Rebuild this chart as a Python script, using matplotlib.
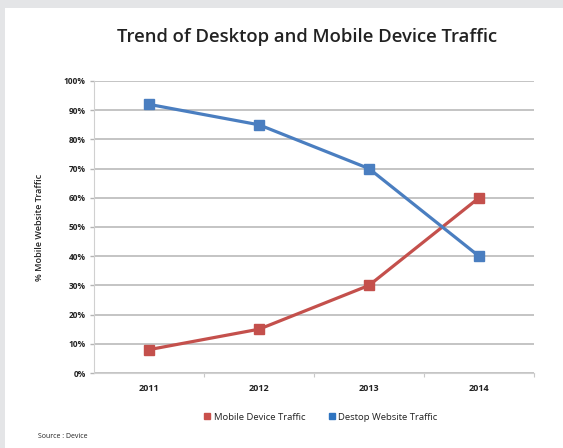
import numpy as np
import matplotlib.pyplot as plt
from matplotlib.patches import Rectangle
from matplotlib.lines import Line2D

plt.rcParams['font.family'] = ['Open Sans', 'DejaVu Sans']

years = ["2011", "2012", "2013", "2014"]
mobile = [8, 15, 30, 60]     # % mobile device traffic
desktop = [92, 85, 70, 40]   # % desktop website traffic
yticks = [0, 10, 20, 30, 40, 50, 60, 70, 80, 90, 100]

red = '#c4504c'
blue = '#4a7ec0'

fig = plt.figure(figsize=(5.63, 4.48), dpi=100)
fig.patch.set_facecolor('#e4e5e7')
# white card on the grey page
fig.patches.append(Rectangle((5 / 563, 0), 1, 1 - 8 / 448, transform=fig.transFigure,
                             facecolor='white', edgecolor='none', zorder=-10))

ax = fig.add_axes([94 / 563, 1 - 373 / 448, 440 / 563, 292 / 448])
ax.set_facecolor('none')

x = np.arange(len(years))
ax.plot(x, mobile, color=red, lw=2.3, marker='s', ms=7.5, zorder=3)
ax.plot(x, desktop, color=blue, lw=2.3, marker='s', ms=7.5, zorder=4)

ax.set_xlim(-0.5, 3.5)
ax.set_ylim(0, 100)
ax.set_xticks(x)
ax.set_xticklabels(years, fontsize=6.5, fontweight='bold', color='#222222')
ax.set_xticks([0.5, 1.5, 2.5, 3.5], minor=True)
ax.tick_params(axis='x', which='major', length=0, pad=8)
ax.tick_params(axis='x', which='minor', length=3, color='#c8c8c8', width=0.8)
ax.set_yticks(yticks)
ax.set_yticklabels([f"{v}%" for v in yticks], fontsize=6, fontweight='bold', color='#222222')
ax.tick_params(axis='y', length=3, color='#b4b4b4', width=1.0, pad=3)

ax.grid(axis='y', color='#b4b4b4', lw=1.1)
ax.set_axisbelow(True)
for side in ['top', 'right']:
    ax.spines[side].set_visible(False)
ax.spines['left'].set_color('#d0d0d0')
ax.spines['bottom'].set_color('#d0d0d0')

ax.set_ylabel("% Mobile Website Traffic", fontsize=6.5, fontweight='semibold', color='#222222', labelpad=14)

fig.text(307 / 563, 1 - 37 / 448, "Trend of Desktop and Mobile Device Traffic",
         ha='center', va='center', fontsize=13.3, fontweight='semibold', color='#222222')

handles = [Line2D([], [], ls='none', marker='s', ms=5, color='#c9504b'),
           Line2D([], [], ls='none', marker='s', ms=5, color='#2f74c0')]
fig.legend(handles, ["Mobile Device Traffic", "Destop Website Traffic"],
           loc='center', bbox_to_anchor=(321 / 563, 1 - 417 / 448), ncol=2,
           frameon=False, fontsize=6.8, handlelength=0.6, handletextpad=0.4,
           columnspacing=2.5, labelcolor='#222222')

fig.text(38 / 563, 1 - 436 / 448, "Source : Device", fontsize=5, color='#222222', va='center')

fig.savefig('out.png', dpi=100, facecolor=fig.get_facecolor())
